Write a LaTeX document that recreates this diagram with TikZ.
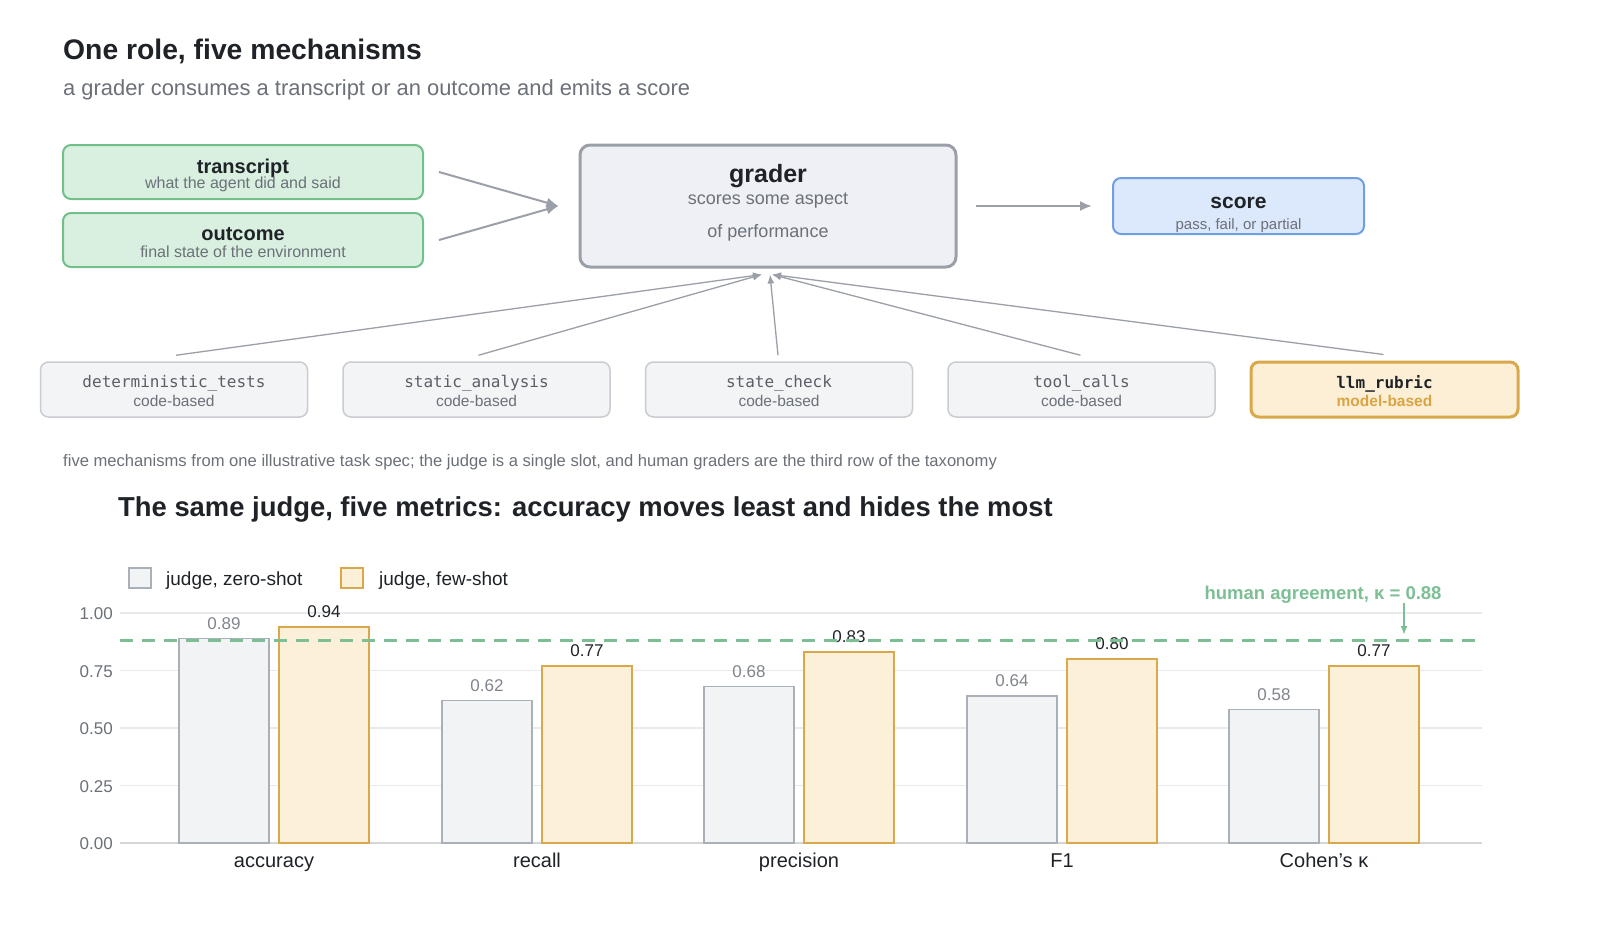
\documentclass[tikz,border=0pt]{standalone}
\usepackage{fontspec}
\setmainfont{Liberation Sans}
\setmonofont{DejaVu Sans Mono}
\usetikzlibrary{arrows.meta}
\definecolor{ink}{HTML}{1F2328}
\definecolor{muted}{HTML}{6B7079}
\definecolor{grnF}{HTML}{D9F0E0}
\definecolor{grnB}{HTML}{72BF8A}
\definecolor{grdF}{HTML}{EEF0F6}
\definecolor{grdB}{HTML}{9A9FA8}
\definecolor{scF}{HTML}{DCE8FB}
\definecolor{scB}{HTML}{6F9FE0}
\definecolor{mF}{HTML}{F3F4F6}
\definecolor{mB}{HTML}{C9CCD1}
\definecolor{mT}{HTML}{5A5F67}
\definecolor{oF}{HTML}{FCEFD6}
\definecolor{oB}{HTML}{D9A84A}
\definecolor{oT}{HTML}{D9A441}
\definecolor{arr}{HTML}{9B9FA7}
\definecolor{grid}{HTML}{E8EAED}
\definecolor{zF}{HTML}{F1F3F5}
\definecolor{zB}{HTML}{AAB0B8}
\definecolor{bF}{HTML}{FCF0D9}
\definecolor{hum}{HTML}{7DBF95}
\newcommand{\myfs}[1]{\fontsize{#1}{#1}\selectfont}
\tikzset{
  boxbase/.style={rectangle, inner sep=0pt},
  greenbox/.style={boxbase, rounded corners=8pt, draw=grnB, fill=grnF, line width=2pt, minimum width=360pt, minimum height=54pt},
  graderbox/.style={boxbase, rounded corners=10pt, draw=grdB, fill=grdF, line width=3pt, minimum width=376pt, minimum height=122pt},
  scorebox/.style={boxbase, rounded corners=8pt, draw=scB, fill=scF, line width=2pt, minimum width=251pt, minimum height=56pt},
  mechbox/.style={boxbase, rounded corners=8pt, draw=mB, fill=mF, line width=1.5pt, minimum width=267pt, minimum height=55pt},
  llmbox/.style={boxbase, rounded corners=8pt, draw=oB, fill=oF, line width=3pt, minimum width=267pt, minimum height=55pt},
  ttl/.style={inner sep=0pt, text=ink, font=\myfs{20}\bfseries},
  sub/.style={inner sep=0pt, text=muted, font=\myfs{16}},
  mono/.style={inner sep=0pt, text=mT, font=\myfs{16}\ttfamily},
  flow/.style={draw=arr, line width=2pt, -{Latex[length=12pt,width=10pt]}},
  feed/.style={draw=arr, line width=1.3pt, -{Latex[length=9pt,width=7pt]}},
  tick/.style={inner sep=0pt, anchor=east, text=muted, font=\myfs{17}},
  zbar/.style={draw=zB, fill=zF, line width=1.5pt},
  fbar/.style={draw=oB, fill=bF, line width=1.5pt},
  zval/.style={inner sep=0pt, text=muted!85!white, font=\myfs{17}},
  fval/.style={inner sep=0pt, text=ink, font=\myfs{17}},
  cat/.style={inner sep=0pt, anchor=base, text=ink, font=\myfs{20}},
  leg/.style={inner sep=0pt, anchor=west, text=ink, font=\myfs{19}},
}
\begin{document}
\begin{tikzpicture}[x=1pt,y=-1pt]
\useasboundingbox (0,0) rectangle (1600,940);
\fill[white] (0,0) rectangle (1600,940);

% titles
\node[inner sep=0pt, anchor=west, text=ink, font=\myfs{28.3}\bfseries] (title) at (63,51) {One role, five mechanisms};
\node[inner sep=0pt, anchor=west, text=muted, font=\myfs{21.9}] (subtitle) at (63,89.5) {a grader consumes a transcript or an outcome and emits a score};

% inputs
\node[greenbox] (tr) at (243,172) {};
\node[ttl] (trT) at (243,168) {transcript};
\node[sub] (trS) at (243,184.5) {what the agent did and said};
\node[greenbox] (oc) at (243,240) {};
\node[ttl] (ocT) at (243,234) {outcome};
\node[sub] (ocS) at (243,252) {final state of the environment};

% grader
\node[graderbox] (gr) at (768,206) {};
\node[ttl, font=\myfs{25}\bfseries] (grT) at (768,176.5) {grader};
\node[sub, font=\myfs{18}] (grS1) at (768,201) {scores some aspect};
\node[sub, font=\myfs{18}] (grS2) at (768,232.5) {of performance};

% score
\node[scorebox] (sc) at (1238.5,206) {};
\node[ttl, font=\myfs{21}\bfseries] (scT) at (1238.5,203) {score};
\node[sub, font=\myfs{15}] (scS) at (1238.5,225.5) {pass, fail, or partial};

\draw[flow] ([xshift=15pt]tr.east) -- ([xshift=-20pt]gr.west);
\draw[flow] ([xshift=15pt]oc.east) -- ([xshift=-20pt]gr.west);
\draw[flow] ([xshift=18pt]gr.east) -- ([xshift=-20pt]sc.west);

% mechanisms
\node[mechbox] (m1) at (174,389.5) {};
\node[mono] (m1T) at (174,383.5) {deterministic\_tests};
\node[sub, font=\myfs{15.5}] (m1S) at (174,401) {code-based};
\node[mechbox] (m2) at (476.5,389.5) {};
\node[mono] (m2T) at (476.5,383.5) {static\_analysis};
\node[sub, font=\myfs{15.5}] (m2S) at (476.5,401) {code-based};
\node[mechbox] (m3) at (779,389.5) {};
\node[mono] (m3T) at (779,383.5) {state\_check};
\node[sub, font=\myfs{15.5}] (m3S) at (779,401) {code-based};
\node[mechbox] (m4) at (1081.5,389.5) {};
\node[mono] (m4T) at (1081.5,383.5) {tool\_calls};
\node[sub, font=\myfs{15.5}] (m4S) at (1081.5,401) {code-based};
\node[llmbox] (m5) at (1384.5,389.5) {};
\node[mono, text=ink, font=\myfs{16}\ttfamily\bfseries] (m5T) at (1384.5,383.5) {llm\_rubric};
\node[sub, text=oT, font=\myfs{15.5}\bfseries] (m5S) at (1384.5,401) {model-based};

\draw[feed] ([xshift=2pt,yshift=6pt]m1.north) -- ([xshift=-6pt,yshift=-6pt]gr.south);
\draw[feed] ([xshift=2pt,yshift=6pt]m2.north) -- ([xshift=-6pt,yshift=-6pt]gr.south);
\draw[feed] ([xshift=-1pt,yshift=6pt]m3.north) -- ([xshift=2pt,yshift=-6pt]gr.south);
\draw[feed] ([xshift=-1pt,yshift=6pt]m4.north) -- ([xshift=4pt,yshift=-6pt]gr.south);
\draw[feed] ([xshift=-1pt,yshift=6pt]m5.north) -- ([xshift=4pt,yshift=-6pt]gr.south);

\node[inner sep=0pt, anchor=west, text=muted, font=\myfs{16.6}] (foot) at (63,462) {five mechanisms from one illustrative task spec; the judge is a single slot, and human graders are the third row of the taxonomy};

% chart
\node[inner sep=0pt, anchor=west, text=ink, font=\myfs{27.4}\bfseries] (ctitle) at (118,509.5) {The same judge, five metrics: accuracy moves least and hides the most};

\draw[zbar] (129,568) rectangle (151,588);
\node[leg] (l1) at (166,581) {judge, zero-shot};
\draw[fbar] (341,568) rectangle (363,588);
\node[leg] (l2) at (379,581) {judge, few-shot};

\foreach \v/\lab in {0/0.00,0.25/0.25,0.5/0.50,0.75/0.75,1/1.00}{
  \pgfmathsetmacro{\yy}{843-\v*230}
  \draw[grid, line width=1.2pt] (120,\yy) -- (1482,\yy);
  \node[tick] at (113,\yy+1) {\lab};
}
\draw[draw=grid!80!gray, line width=1.5pt] (120,843) -- (1482,843);

\foreach \i/\cx/\zv/\fv/\zl/\fl/\nm in {1/274/0.89/0.94/0.89/0.94/accuracy, 2/537/0.62/0.77/0.62/0.77/recall, 3/799/0.68/0.83/0.68/0.83/precision, 4/1062/0.64/0.80/0.64/0.80/F1, 5/1324/0.58/0.77/0.58/0.77/Cohen's κ}{
  \pgfmathsetmacro{\zt}{843-\zv*230}
  \pgfmathsetmacro{\ft}{843-\fv*230}
  \draw[zbar] (\cx-95,843) rectangle (\cx-5,\zt);
  \draw[fbar] (\cx+5,843) rectangle (\cx+95,\ft);
  \node[zval] (zv\i) at (\cx-50,\zt-15) {\zl};
  \node[fval] (fv\i) at (\cx+50,\ft-15) {\fl};
  \node[cat] (c\i) at (\cx,867) {\nm};
}

% human agreement
\draw[hum, line width=2.5pt, dash pattern=on 13pt off 9pt] (120,640.6) -- (1482,640.6);
\node[inner sep=0pt, text=hum, font=\myfs{18.5}\bfseries] (ha) at (1323,595) {human agreement, κ = 0.88};
\coordinate (haS) at (1404,603);
\coordinate (haE) at (1404,635);
\draw[draw=hum, line width=1.8pt, -{Latex[length=9pt,width=7pt]}] (haS) -- (haE);
\end{tikzpicture}
\end{document}
